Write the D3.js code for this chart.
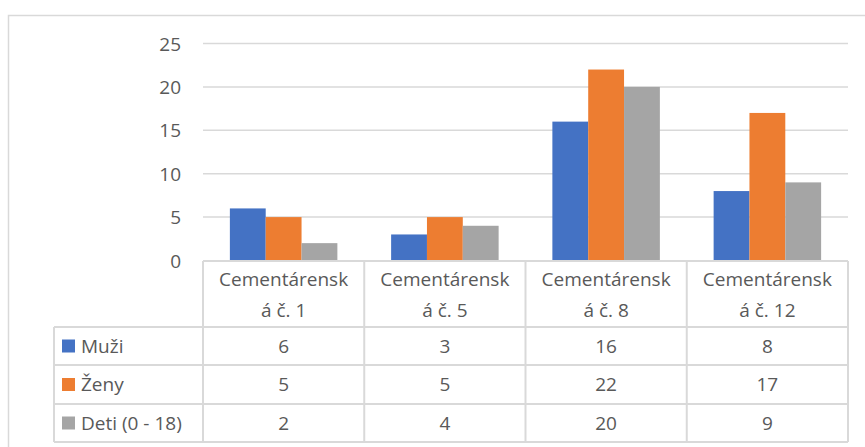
<!DOCTYPE html>
<html>
<head>
<meta charset="utf-8">
<script src="https://cdn.jsdelivr.net/npm/d3@7"></script>
<style>
    body { margin: 0; background: #fff; }
    svg text { font-family: "Open Sans", sans-serif; fill: #595959; }
</style>
</head>
<body>
<svg id="chart" width="865" height="447"></svg>
<script>
const categories = ["Cementárenská č. 1", "Cementárenská č. 5", "Cementárenská č. 8", "Cementárenská č. 12"];
const headerLines = [["Cementárensk", "á č. 1"], ["Cementárensk", "á č. 5"], ["Cementárensk", "á č. 8"], ["Cementárensk", "á č. 12"]];
const seriesNames = ["Muži", "Ženy", "Deti (0 - 18)"];
const muzi = [6, 3, 16, 8];
const zeny = [5, 5, 22, 17];
const deti = [2, 4, 20, 9];
const yTicks = [0, 5, 10, 15, 20, 25];
const colors = ["#4472C4", "#ED7D31", "#A5A5A5"];

const seriesValues = [muzi, zeny, deti];

const W = 865, H = 447;
const plotLeft = 203, plotRight = 848;
const plotTop = 43.5, plotBottom = 260.5;
const legendLeft = 54;
const rowY = [261, 327, 365, 404, 442]; // header, three data rows
const fontSize = 19;
const gridColor = "#D9D9D9";

const svg = d3.select("#chart");

// outer chart frame (runs off the right and bottom of the picture)
svg.append("rect")
    .attr("x", 8.5).attr("y", 15.5)
    .attr("width", W + 20).attr("height", H + 20)
    .attr("fill", "none")
    .attr("stroke", gridColor)
    .attr("stroke-width", 1.5);

let xScale = d3.scaleBand()
    .domain(categories)
    .range([plotLeft, plotRight])
    .paddingInner(0).paddingOuter(0);

let x1 = d3.scaleBand()
    .domain(seriesNames)
    .range([0, xScale.bandwidth()])
    .paddingInner(0).paddingOuter(0.75);

let yScale = d3.scaleLinear()
    .domain([0, 25])
    .range([plotBottom, plotTop]);

// gridlines
svg.append("g").classed("grid", true)
    .selectAll("line")
    .data(yTicks.filter(t => t > 0))
    .enter().append("line")
    .attr("x1", plotLeft).attr("x2", plotRight)
    .attr("y1", d => yScale(d)).attr("y2", d => yScale(d))
    .attr("stroke", gridColor)
    .attr("stroke-width", 1.5);

// y axis labels
let yAxis = d3.axisLeft(yScale).tickValues(yTicks).tickSize(0).tickPadding(0);
let gy = svg.append("g")
    .attr("transform", `translate(${plotLeft - 22}, 0)`)
    .call(yAxis);
gy.select(".domain").remove();
gy.selectAll("text")
    .attr("font-size", fontSize)
    .attr("font-family", "Open Sans, sans-serif")
    .attr("fill", "#595959")
    .attr("dy", "0.35em");

// bars
let data = categories.map((c, i) => ({ cat: c, values: seriesNames.map((s, j) => ({ s: s, v: seriesValues[j][i], j: j })) }));
let groups = svg.append("g").classed("bars", true)
    .selectAll("g")
    .data(data)
    .enter().append("g")
    .attr("transform", d => `translate(${xScale(d.cat)}, 0)`);

groups.selectAll("rect")
    .data(d => d.values)
    .enter().append("rect")
    .attr("x", d => x1(d.s))
    .attr("y", d => yScale(d.v))
    .attr("width", x1.bandwidth())
    .attr("height", d => yScale(0) - yScale(d.v))
    .attr("fill", d => colors[d.j]);

// data table
let table = svg.append("g").classed("table", true);
let lineStyle = sel => sel.attr("stroke", gridColor).attr("stroke-width", 2).attr("fill", "none");

// horizontal lines
table.append("line").call(lineStyle)
    .attr("x1", plotLeft).attr("x2", plotRight).attr("y1", rowY[0]).attr("y2", rowY[0]);
rowY.slice(1).forEach(y => {
    table.append("line").call(lineStyle)
        .attr("x1", legendLeft).attr("x2", plotRight).attr("y1", y).attr("y2", y);
});
// vertical lines
table.append("line").call(lineStyle)
    .attr("x1", legendLeft).attr("x2", legendLeft).attr("y1", rowY[1]).attr("y2", rowY[4]);
categories.forEach(c => {
    table.append("line").call(lineStyle)
        .attr("x1", xScale(c)).attr("x2", xScale(c)).attr("y1", rowY[0]).attr("y2", rowY[4]);
});
table.append("line").call(lineStyle)
    .attr("x1", plotRight).attr("x2", plotRight).attr("y1", rowY[0]).attr("y2", rowY[4]);

// header text
categories.forEach((c, i) => {
    let cx = xScale(c) + xScale.bandwidth() / 2;
    headerLines[i].forEach((t, k) => {
        table.append("text")
            .attr("x", cx)
            .attr("y", 279 + k * 31)
            .attr("dy", "0.35em")
            .attr("text-anchor", "middle")
            .attr("font-size", fontSize)
            .text(t);
    });
});

// rows
seriesNames.forEach((s, j) => {
    let cy = (rowY[j + 1] + rowY[j + 2]) / 2;
    table.append("rect")
        .attr("x", 62).attr("y", cy - 6.5)
        .attr("width", 13).attr("height", 13)
        .attr("fill", colors[j]);
    table.append("text")
        .attr("x", 81).attr("y", cy)
        .attr("dy", "0.35em")
        .attr("font-size", fontSize)
        .text(s);
    categories.forEach((c, i) => {
        table.append("text")
            .attr("x", xScale(c) + xScale.bandwidth() / 2)
            .attr("y", cy)
            .attr("dy", "0.35em")
            .attr("text-anchor", "middle")
            .attr("font-size", fontSize)
            .text(seriesValues[j][i]);
    });
});
</script>
</body>
</html>
